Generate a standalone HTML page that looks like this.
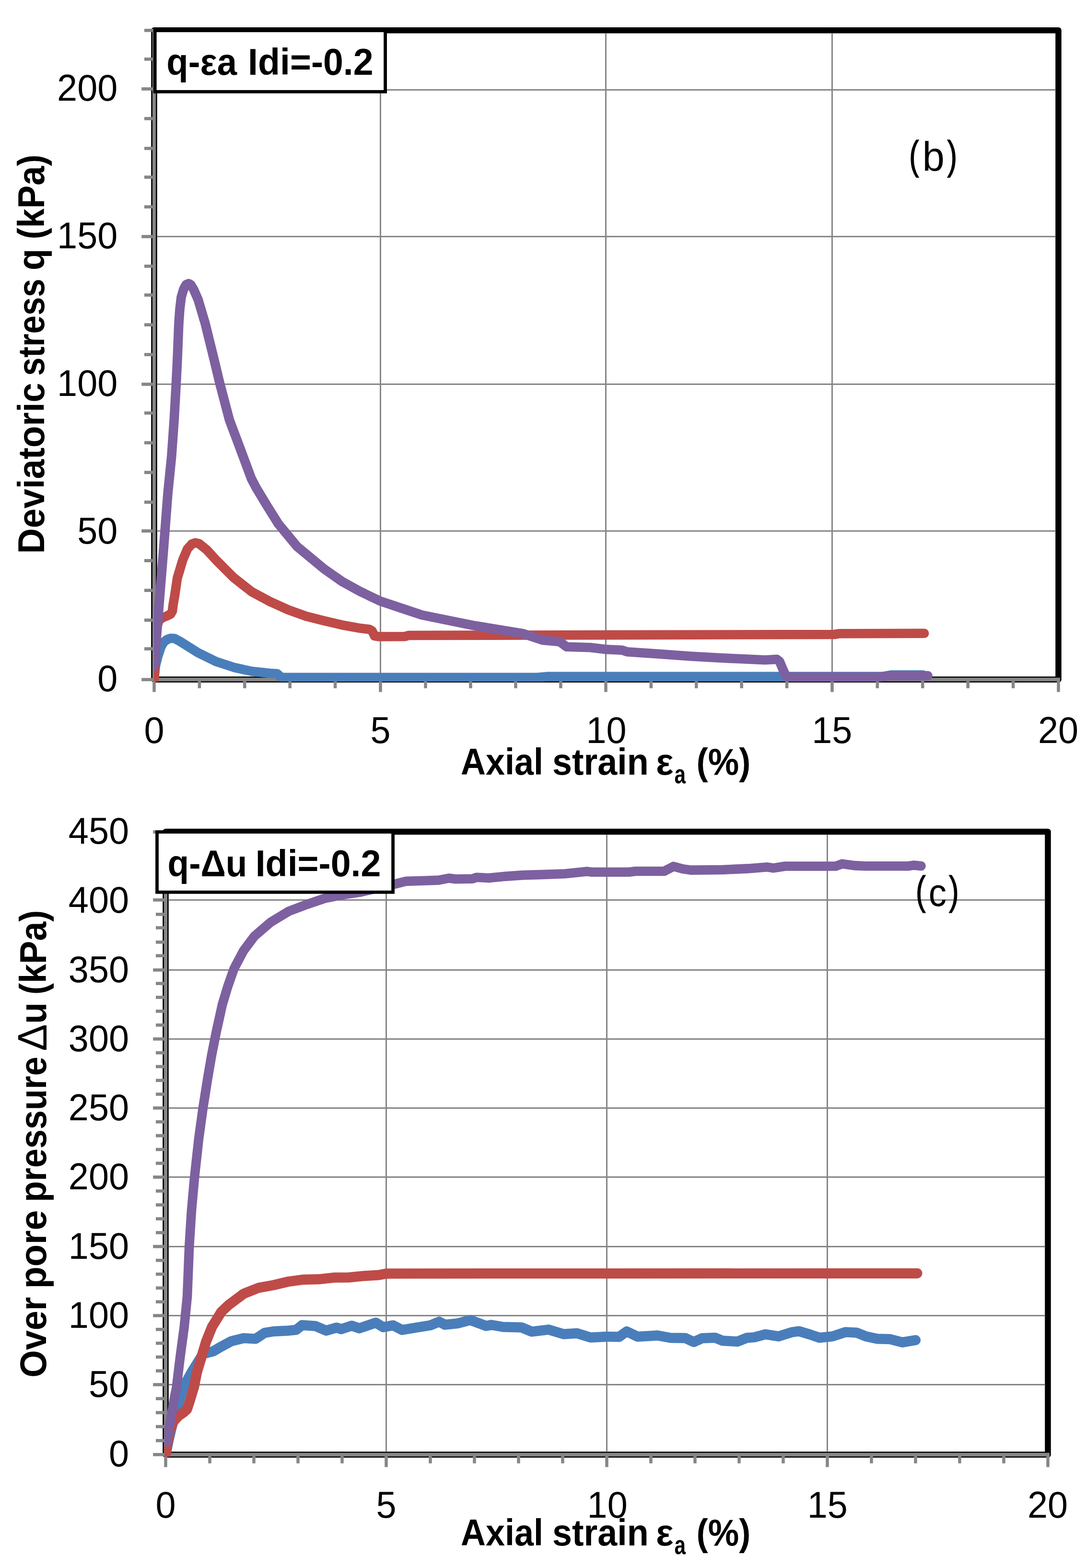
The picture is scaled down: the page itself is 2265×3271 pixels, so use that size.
<!DOCTYPE html>
<html lang="en"><head><meta charset="utf-8"><title>Stress-strain and pore pressure charts</title>
<style>html,body{margin:0;padding:0;background:#fff}body{width:2265px;height:3271px;overflow:hidden}svg{display:block}text{font-family:"Liberation Sans",sans-serif;fill:#000;font-kerning:none}</style></head><body>
<svg width="2265" height="3271" viewBox="0 0 2265 3271" role="img" aria-label="Deviatoric stress and over pore pressure versus axial strain">
<rect width="2265" height="3271" fill="#fff"/>
<g>
<rect x="321.50" y="63.20" width="1886.00" height="1354.30" fill="#fff" stroke="#000" stroke-width="12.5" stroke-linejoin="round"/>
<line x1="793.50" y1="69.20" x2="793.50" y2="1411.50" stroke="#868686" stroke-width="3.00"/>
<line x1="1263.50" y1="69.20" x2="1263.50" y2="1411.50" stroke="#868686" stroke-width="3.00"/>
<line x1="1735.50" y1="69.20" x2="1735.50" y2="1411.50" stroke="#868686" stroke-width="3.00"/>
<line x1="327.50" y1="187.50" x2="2201.50" y2="187.50" stroke="#868686" stroke-width="3.00"/>
<line x1="327.50" y1="493.50" x2="2201.50" y2="493.50" stroke="#868686" stroke-width="3.00"/>
<line x1="327.50" y1="801.40" x2="2201.50" y2="801.40" stroke="#868686" stroke-width="3.00"/>
<line x1="327.50" y1="1107.70" x2="2201.50" y2="1107.70" stroke="#868686" stroke-width="3.00"/>
<line x1="321.50" y1="60.20" x2="321.50" y2="1421.00" stroke="#868686" stroke-width="7.00"/>
<line x1="318.00" y1="1417.50" x2="2211.00" y2="1417.50" stroke="#868686" stroke-width="7.50"/>
<line x1="295.20" y1="1417.70" x2="321.50" y2="1417.70" stroke="#868686" stroke-width="6.70"/>
<line x1="301.00" y1="1353.50" x2="321.50" y2="1353.50" stroke="#868686" stroke-width="6.70"/>
<line x1="301.00" y1="1293.70" x2="321.50" y2="1293.70" stroke="#868686" stroke-width="6.70"/>
<line x1="301.00" y1="1231.60" x2="321.50" y2="1231.60" stroke="#868686" stroke-width="6.70"/>
<line x1="301.00" y1="1169.50" x2="321.50" y2="1169.50" stroke="#868686" stroke-width="6.70"/>
<line x1="295.20" y1="1107.60" x2="321.50" y2="1107.60" stroke="#868686" stroke-width="6.70"/>
<line x1="301.00" y1="1047.60" x2="321.50" y2="1047.60" stroke="#868686" stroke-width="6.70"/>
<line x1="301.00" y1="985.60" x2="321.50" y2="985.60" stroke="#868686" stroke-width="6.70"/>
<line x1="301.00" y1="923.60" x2="321.50" y2="923.60" stroke="#868686" stroke-width="6.70"/>
<line x1="301.00" y1="861.60" x2="321.50" y2="861.60" stroke="#868686" stroke-width="6.70"/>
<line x1="295.20" y1="801.60" x2="321.50" y2="801.60" stroke="#868686" stroke-width="6.70"/>
<line x1="301.00" y1="739.70" x2="321.50" y2="739.70" stroke="#868686" stroke-width="6.70"/>
<line x1="301.00" y1="677.60" x2="321.50" y2="677.60" stroke="#868686" stroke-width="6.70"/>
<line x1="301.00" y1="615.50" x2="321.50" y2="615.50" stroke="#868686" stroke-width="6.70"/>
<line x1="301.00" y1="555.40" x2="321.50" y2="555.40" stroke="#868686" stroke-width="6.70"/>
<line x1="295.20" y1="493.50" x2="321.50" y2="493.50" stroke="#868686" stroke-width="6.70"/>
<line x1="301.00" y1="431.50" x2="321.50" y2="431.50" stroke="#868686" stroke-width="6.70"/>
<line x1="301.00" y1="369.60" x2="321.50" y2="369.60" stroke="#868686" stroke-width="6.70"/>
<line x1="301.00" y1="309.60" x2="321.50" y2="309.60" stroke="#868686" stroke-width="6.70"/>
<line x1="301.00" y1="247.40" x2="321.50" y2="247.40" stroke="#868686" stroke-width="6.70"/>
<line x1="295.20" y1="185.50" x2="321.50" y2="185.50" stroke="#868686" stroke-width="6.70"/>
<line x1="301.00" y1="123.40" x2="321.50" y2="123.40" stroke="#868686" stroke-width="6.70"/>
<line x1="301.00" y1="63.40" x2="321.50" y2="63.40" stroke="#868686" stroke-width="6.70"/>
<line x1="321.50" y1="1417.50" x2="321.50" y2="1443.50" stroke="#868686" stroke-width="6.50"/>
<line x1="415.90" y1="1417.50" x2="415.90" y2="1435.70" stroke="#868686" stroke-width="6.50"/>
<line x1="510.30" y1="1417.50" x2="510.30" y2="1435.70" stroke="#868686" stroke-width="6.50"/>
<line x1="604.70" y1="1417.50" x2="604.70" y2="1435.70" stroke="#868686" stroke-width="6.50"/>
<line x1="699.10" y1="1417.50" x2="699.10" y2="1435.70" stroke="#868686" stroke-width="6.50"/>
<line x1="793.50" y1="1417.50" x2="793.50" y2="1443.50" stroke="#868686" stroke-width="6.50"/>
<line x1="887.50" y1="1417.50" x2="887.50" y2="1435.70" stroke="#868686" stroke-width="6.50"/>
<line x1="981.50" y1="1417.50" x2="981.50" y2="1435.70" stroke="#868686" stroke-width="6.50"/>
<line x1="1075.50" y1="1417.50" x2="1075.50" y2="1435.70" stroke="#868686" stroke-width="6.50"/>
<line x1="1169.50" y1="1417.50" x2="1169.50" y2="1435.70" stroke="#868686" stroke-width="6.50"/>
<line x1="1263.50" y1="1417.50" x2="1263.50" y2="1443.50" stroke="#868686" stroke-width="6.50"/>
<line x1="1357.90" y1="1417.50" x2="1357.90" y2="1435.70" stroke="#868686" stroke-width="6.50"/>
<line x1="1452.30" y1="1417.50" x2="1452.30" y2="1435.70" stroke="#868686" stroke-width="6.50"/>
<line x1="1546.70" y1="1417.50" x2="1546.70" y2="1435.70" stroke="#868686" stroke-width="6.50"/>
<line x1="1641.10" y1="1417.50" x2="1641.10" y2="1435.70" stroke="#868686" stroke-width="6.50"/>
<line x1="1735.50" y1="1417.50" x2="1735.50" y2="1443.50" stroke="#868686" stroke-width="6.50"/>
<line x1="1829.90" y1="1417.50" x2="1829.90" y2="1435.70" stroke="#868686" stroke-width="6.50"/>
<line x1="1924.30" y1="1417.50" x2="1924.30" y2="1435.70" stroke="#868686" stroke-width="6.50"/>
<line x1="2018.70" y1="1417.50" x2="2018.70" y2="1435.70" stroke="#868686" stroke-width="6.50"/>
<line x1="2113.10" y1="1417.50" x2="2113.10" y2="1435.70" stroke="#868686" stroke-width="6.50"/>
<line x1="2207.50" y1="1417.50" x2="2207.50" y2="1443.50" stroke="#868686" stroke-width="6.50"/>
<clipPath id="clipb"><rect x="321.00" y="63.20" width="1886.50" height="1358.60"/></clipPath>
<g clip-path="url(#clipb)">
<polyline points="321.5,1417.5 323.0,1400.0 324.5,1388.0 329.0,1370.0 335.5,1350.0 341.0,1340.0 348.5,1334.0 356.0,1331.5 364.0,1332.0 375.2,1337.9 412.8,1361.5 450.4,1380.0 488.0,1392.3 525.6,1400.5 563.2,1404.5 578.2,1405.5 585.7,1412.3 590.0,1413.2 1120.0,1413.2 1140.0,1411.4 1840.0,1411.4 1860.0,1408.0 1925.0,1408.0" fill="none" stroke="#4A7EBB" stroke-width="19.6" stroke-linejoin="round" stroke-linecap="round"/>
<polyline points="321.5,1417.5 323.5,1390.0 324.5,1350.0 327.0,1310.0 331.0,1295.0 338.0,1289.0 348.0,1285.0 356.0,1281.0 359.4,1275.0 361.0,1262.0 364.3,1243.2 369.9,1205.6 381.2,1168.0 391.0,1145.0 400.0,1135.0 407.1,1132.3 415.0,1134.0 431.6,1147.3 450.4,1168.0 488.0,1205.6 525.6,1234.9 563.2,1255.0 600.8,1272.0 638.3,1285.5 675.9,1295.0 713.5,1303.8 751.1,1310.6 769.9,1312.7 776.0,1316.0 781.2,1326.6 790.0,1328.0 845.0,1327.7 852.0,1325.5 1100.0,1325.0 1740.0,1323.5 1750.0,1321.8 1927.7,1321.3" fill="none" stroke="#BE4B48" stroke-width="19.6" stroke-linejoin="round" stroke-linecap="round"/>
<polyline points="321.5,1389.5 329.5,1290.0 340.0,1160.0 350.0,1030.0 357.9,951.0 363.2,875.8 367.4,800.6 369.9,750.5 372.9,675.3 375.0,645.0 378.0,620.0 383.0,603.0 388.0,594.0 393.2,591.6 398.0,594.0 404.0,604.0 413.3,625.2 428.1,675.3 446.6,750.5 458.6,800.6 478.4,875.8 497.2,925.9 517.4,980.0 524.3,998.6 534.3,1017.6 557.0,1055.2 580.5,1092.8 619.5,1140.0 675.9,1186.8 713.5,1213.1 751.1,1233.8 793.2,1254.0 845.1,1271.4 880.0,1283.0 985.3,1304.4 1090.5,1321.6 1132.6,1335.6 1167.7,1338.8 1181.8,1349.3 1230.9,1350.7 1262.5,1354.6 1297.5,1356.3 1308.0,1359.8 1371.2,1364.0 1440.0,1369.0 1507.7,1372.8 1595.4,1376.7 1610.0,1376.0 1620.0,1375.3 1626.0,1380.0 1632.3,1395.0 1638.0,1408.0 1644.6,1412.5 1830.5,1412.5 1858.6,1409.6 1935.1,1409.6" fill="none" stroke="#7D60A0" stroke-width="19.6" stroke-linejoin="round" stroke-linecap="round"/>
</g>
<text transform="translate(203.28 1442.21) scale(0.9750 1)" font-size="77.60" font-weight="normal">0</text>
<text transform="translate(161.20 1134.17) scale(0.9750 1)" font-size="77.60" font-weight="normal">50</text>
<text transform="translate(119.12 826.13) scale(0.9750 1)" font-size="77.60" font-weight="normal">100</text>
<text transform="translate(119.12 518.09) scale(0.9750 1)" font-size="77.60" font-weight="normal">150</text>
<text transform="translate(119.12 210.05) scale(0.9750 1)" font-size="77.60" font-weight="normal">200</text>
<text transform="translate(300.46 1550.36) scale(0.9750 1)" font-size="77.60" font-weight="normal">0</text>
<text transform="translate(772.53 1550.36) scale(0.9750 1)" font-size="77.60" font-weight="normal">5</text>
<text transform="translate(1222.42 1550.36) scale(0.9750 1)" font-size="77.60" font-weight="normal">10</text>
<text transform="translate(1693.13 1550.36) scale(0.9750 1)" font-size="77.60" font-weight="normal">15</text>
<text transform="translate(2165.00 1550.36) scale(0.9750 1)" font-size="77.60" font-weight="normal">20</text>
<rect x="323.20" y="63.70" width="480.40" height="127.60" fill="#fff" stroke="#000" stroke-width="6.8"/>
<text transform="translate(347.35 156.10) scale(0.9523 1)" font-size="78.00" font-weight="bold">q-εa</text>
<text transform="translate(517.06 156.10) scale(0.9657 1)" font-size="78.00" font-weight="bold">Idi=-0.2</text>
<text transform="translate(1896.33 352.90) scale(0.7229 1)" font-size="84.00" font-weight="normal" stroke="#000" stroke-width="1.5">(</text>
<text transform="translate(1923.65 355.50) scale(0.9645 1)" font-size="86.00" font-weight="normal">b</text>
<text transform="translate(1975.64 352.90) scale(0.7274 1)" font-size="84.00" font-weight="normal" stroke="#000" stroke-width="1.5">)</text>
<text transform="translate(960.91 1615.80) scale(0.9231 1)" font-size="78.00" font-weight="bold">Axial</text>
<text transform="translate(1151.91 1615.80) scale(0.9457 1)" font-size="78.00" font-weight="bold">strain</text>
<text transform="translate(1368.00 1615.80) scale(0.9899 1)" font-size="78.00" font-weight="bold">ε</text>
<text transform="translate(1406.56 1633.80) scale(0.7763 1)" font-size="54.60" font-weight="bold">a</text>
<text transform="translate(1452.48 1615.80) scale(0.9310 1)" font-size="78.00" font-weight="bold">(%)</text>
<text transform="translate(92.30 1155.13) rotate(-90) scale(0.9457 1)" font-size="78.00" font-weight="bold">Deviatoric</text>
<text transform="translate(92.30 784.02) rotate(-90) scale(0.8807 1)" font-size="78.00" font-weight="bold">stress</text>
<text transform="translate(92.30 564.04) rotate(-90) scale(0.9508 1)" font-size="78.00" font-weight="bold">q</text>
<text transform="translate(92.30 499.31) rotate(-90) scale(0.9280 1)" font-size="78.00" font-weight="bold">(kPa)</text>
</g>
<g>
<rect x="345.50" y="1735.00" width="1840.00" height="1299.50" fill="#fff" stroke="#000" stroke-width="12.5" stroke-linejoin="round"/>
<line x1="805.50" y1="1741.00" x2="805.50" y2="3028.50" stroke="#868686" stroke-width="3.00"/>
<line x1="1265.50" y1="1741.00" x2="1265.50" y2="3028.50" stroke="#868686" stroke-width="3.00"/>
<line x1="1725.50" y1="1741.00" x2="1725.50" y2="3028.50" stroke="#868686" stroke-width="3.00"/>
<line x1="351.50" y1="1877.60" x2="2179.50" y2="1877.60" stroke="#868686" stroke-width="3.00"/>
<line x1="351.50" y1="2023.40" x2="2179.50" y2="2023.40" stroke="#868686" stroke-width="3.00"/>
<line x1="351.50" y1="2167.40" x2="2179.50" y2="2167.40" stroke="#868686" stroke-width="3.00"/>
<line x1="351.50" y1="2311.40" x2="2179.50" y2="2311.40" stroke="#868686" stroke-width="3.00"/>
<line x1="351.50" y1="2455.60" x2="2179.50" y2="2455.60" stroke="#868686" stroke-width="3.00"/>
<line x1="351.50" y1="2600.40" x2="2179.50" y2="2600.40" stroke="#868686" stroke-width="3.00"/>
<line x1="351.50" y1="2744.50" x2="2179.50" y2="2744.50" stroke="#868686" stroke-width="3.00"/>
<line x1="351.50" y1="2888.50" x2="2179.50" y2="2888.50" stroke="#868686" stroke-width="3.00"/>
<line x1="345.50" y1="1732.00" x2="345.50" y2="3038.00" stroke="#868686" stroke-width="7.00"/>
<line x1="342.00" y1="3034.50" x2="2189.00" y2="3034.50" stroke="#868686" stroke-width="7.50"/>
<line x1="319.20" y1="3034.40" x2="345.50" y2="3034.40" stroke="#868686" stroke-width="6.70"/>
<line x1="325.00" y1="3005.22" x2="345.50" y2="3005.22" stroke="#868686" stroke-width="6.70"/>
<line x1="325.00" y1="2976.04" x2="345.50" y2="2976.04" stroke="#868686" stroke-width="6.70"/>
<line x1="325.00" y1="2946.86" x2="345.50" y2="2946.86" stroke="#868686" stroke-width="6.70"/>
<line x1="325.00" y1="2917.68" x2="345.50" y2="2917.68" stroke="#868686" stroke-width="6.70"/>
<line x1="319.20" y1="2888.50" x2="345.50" y2="2888.50" stroke="#868686" stroke-width="6.70"/>
<line x1="325.00" y1="2859.70" x2="345.50" y2="2859.70" stroke="#868686" stroke-width="6.70"/>
<line x1="325.00" y1="2830.90" x2="345.50" y2="2830.90" stroke="#868686" stroke-width="6.70"/>
<line x1="325.00" y1="2802.10" x2="345.50" y2="2802.10" stroke="#868686" stroke-width="6.70"/>
<line x1="325.00" y1="2773.30" x2="345.50" y2="2773.30" stroke="#868686" stroke-width="6.70"/>
<line x1="319.20" y1="2744.50" x2="345.50" y2="2744.50" stroke="#868686" stroke-width="6.70"/>
<line x1="325.00" y1="2715.68" x2="345.50" y2="2715.68" stroke="#868686" stroke-width="6.70"/>
<line x1="325.00" y1="2686.86" x2="345.50" y2="2686.86" stroke="#868686" stroke-width="6.70"/>
<line x1="325.00" y1="2658.04" x2="345.50" y2="2658.04" stroke="#868686" stroke-width="6.70"/>
<line x1="325.00" y1="2629.22" x2="345.50" y2="2629.22" stroke="#868686" stroke-width="6.70"/>
<line x1="319.20" y1="2600.40" x2="345.50" y2="2600.40" stroke="#868686" stroke-width="6.70"/>
<line x1="325.00" y1="2571.44" x2="345.50" y2="2571.44" stroke="#868686" stroke-width="6.70"/>
<line x1="325.00" y1="2542.48" x2="345.50" y2="2542.48" stroke="#868686" stroke-width="6.70"/>
<line x1="325.00" y1="2513.52" x2="345.50" y2="2513.52" stroke="#868686" stroke-width="6.70"/>
<line x1="325.00" y1="2484.56" x2="345.50" y2="2484.56" stroke="#868686" stroke-width="6.70"/>
<line x1="319.20" y1="2455.60" x2="345.50" y2="2455.60" stroke="#868686" stroke-width="6.70"/>
<line x1="325.00" y1="2426.76" x2="345.50" y2="2426.76" stroke="#868686" stroke-width="6.70"/>
<line x1="325.00" y1="2397.92" x2="345.50" y2="2397.92" stroke="#868686" stroke-width="6.70"/>
<line x1="325.00" y1="2369.08" x2="345.50" y2="2369.08" stroke="#868686" stroke-width="6.70"/>
<line x1="325.00" y1="2340.24" x2="345.50" y2="2340.24" stroke="#868686" stroke-width="6.70"/>
<line x1="319.20" y1="2311.40" x2="345.50" y2="2311.40" stroke="#868686" stroke-width="6.70"/>
<line x1="325.00" y1="2282.60" x2="345.50" y2="2282.60" stroke="#868686" stroke-width="6.70"/>
<line x1="325.00" y1="2253.80" x2="345.50" y2="2253.80" stroke="#868686" stroke-width="6.70"/>
<line x1="325.00" y1="2225.00" x2="345.50" y2="2225.00" stroke="#868686" stroke-width="6.70"/>
<line x1="325.00" y1="2196.20" x2="345.50" y2="2196.20" stroke="#868686" stroke-width="6.70"/>
<line x1="319.20" y1="2167.40" x2="345.50" y2="2167.40" stroke="#868686" stroke-width="6.70"/>
<line x1="325.00" y1="2138.45" x2="345.50" y2="2138.45" stroke="#868686" stroke-width="6.70"/>
<line x1="325.00" y1="2109.50" x2="345.50" y2="2109.50" stroke="#868686" stroke-width="6.70"/>
<line x1="325.00" y1="2080.55" x2="345.50" y2="2080.55" stroke="#868686" stroke-width="6.70"/>
<line x1="325.00" y1="2051.60" x2="345.50" y2="2051.60" stroke="#868686" stroke-width="6.70"/>
<line x1="319.20" y1="2023.50" x2="345.50" y2="2023.50" stroke="#868686" stroke-width="6.70"/>
<line x1="325.00" y1="1993.70" x2="345.50" y2="1993.70" stroke="#868686" stroke-width="6.70"/>
<line x1="325.00" y1="1965.40" x2="345.50" y2="1965.40" stroke="#868686" stroke-width="6.70"/>
<line x1="325.00" y1="1935.40" x2="345.50" y2="1935.40" stroke="#868686" stroke-width="6.70"/>
<line x1="325.00" y1="1907.40" x2="345.50" y2="1907.40" stroke="#868686" stroke-width="6.70"/>
<line x1="319.20" y1="1877.40" x2="345.50" y2="1877.40" stroke="#868686" stroke-width="6.70"/>
<line x1="325.00" y1="1849.02" x2="345.50" y2="1849.02" stroke="#868686" stroke-width="6.70"/>
<line x1="325.00" y1="1820.64" x2="345.50" y2="1820.64" stroke="#868686" stroke-width="6.70"/>
<line x1="325.00" y1="1792.26" x2="345.50" y2="1792.26" stroke="#868686" stroke-width="6.70"/>
<line x1="325.00" y1="1763.88" x2="345.50" y2="1763.88" stroke="#868686" stroke-width="6.70"/>
<line x1="319.20" y1="1735.50" x2="345.50" y2="1735.50" stroke="#868686" stroke-width="6.70"/>
<line x1="345.50" y1="3034.50" x2="345.50" y2="3060.50" stroke="#868686" stroke-width="6.50"/>
<line x1="437.50" y1="3034.50" x2="437.50" y2="3052.70" stroke="#868686" stroke-width="6.50"/>
<line x1="529.50" y1="3034.50" x2="529.50" y2="3052.70" stroke="#868686" stroke-width="6.50"/>
<line x1="621.50" y1="3034.50" x2="621.50" y2="3052.70" stroke="#868686" stroke-width="6.50"/>
<line x1="713.50" y1="3034.50" x2="713.50" y2="3052.70" stroke="#868686" stroke-width="6.50"/>
<line x1="805.50" y1="3034.50" x2="805.50" y2="3060.50" stroke="#868686" stroke-width="6.50"/>
<line x1="897.50" y1="3034.50" x2="897.50" y2="3052.70" stroke="#868686" stroke-width="6.50"/>
<line x1="989.50" y1="3034.50" x2="989.50" y2="3052.70" stroke="#868686" stroke-width="6.50"/>
<line x1="1081.50" y1="3034.50" x2="1081.50" y2="3052.70" stroke="#868686" stroke-width="6.50"/>
<line x1="1173.50" y1="3034.50" x2="1173.50" y2="3052.70" stroke="#868686" stroke-width="6.50"/>
<line x1="1265.50" y1="3034.50" x2="1265.50" y2="3060.50" stroke="#868686" stroke-width="6.50"/>
<line x1="1357.50" y1="3034.50" x2="1357.50" y2="3052.70" stroke="#868686" stroke-width="6.50"/>
<line x1="1449.50" y1="3034.50" x2="1449.50" y2="3052.70" stroke="#868686" stroke-width="6.50"/>
<line x1="1541.50" y1="3034.50" x2="1541.50" y2="3052.70" stroke="#868686" stroke-width="6.50"/>
<line x1="1633.50" y1="3034.50" x2="1633.50" y2="3052.70" stroke="#868686" stroke-width="6.50"/>
<line x1="1725.50" y1="3034.50" x2="1725.50" y2="3060.50" stroke="#868686" stroke-width="6.50"/>
<line x1="1817.50" y1="3034.50" x2="1817.50" y2="3052.70" stroke="#868686" stroke-width="6.50"/>
<line x1="1909.50" y1="3034.50" x2="1909.50" y2="3052.70" stroke="#868686" stroke-width="6.50"/>
<line x1="2001.50" y1="3034.50" x2="2001.50" y2="3052.70" stroke="#868686" stroke-width="6.50"/>
<line x1="2093.50" y1="3034.50" x2="2093.50" y2="3052.70" stroke="#868686" stroke-width="6.50"/>
<line x1="2185.50" y1="3034.50" x2="2185.50" y2="3060.50" stroke="#868686" stroke-width="6.50"/>
<clipPath id="clipc"><rect x="343.00" y="1735.00" width="1842.50" height="1303.80"/></clipPath>
<g clip-path="url(#clipc)">
<polyline points="345.5,3034.5 348.5,3020.0 352.0,3003.0 357.0,2982.0 362.0,2962.0 369.0,2938.0 376.0,2915.0 382.7,2893.3 399.9,2862.0 423.4,2824.4 445.3,2818.7 461.0,2809.3 482.9,2797.7 508.0,2791.5 533.0,2793.0 551.8,2780.5 570.6,2777.4 602.0,2775.8 617.6,2774.2 630.2,2764.2 658.3,2766.4 680.3,2775.8 702.2,2769.5 711.6,2772.7 733.5,2765.5 749.2,2771.1 783.7,2759.2 799.3,2768.6 820.0,2764.8 838.6,2774.4 870.2,2769.1 898.2,2764.6 915.8,2757.2 928.0,2763.5 954.4,2760.7 980.7,2753.7 1014.0,2766.0 1024.6,2763.9 1049.1,2768.1 1087.7,2769.1 1108.8,2777.9 1143.9,2773.7 1175.4,2783.2 1203.5,2781.4 1231.6,2790.2 1266.7,2788.4 1291.2,2788.8 1307.0,2777.5 1329.8,2788.4 1360.0,2786.7 1371.0,2785.9 1398.3,2790.9 1429.4,2791.3 1446.8,2799.5 1464.3,2791.7 1491.5,2790.6 1507.0,2796.8 1538.1,2798.7 1557.6,2790.9 1573.1,2789.8 1596.4,2783.6 1623.6,2787.8 1650.8,2779.3 1666.3,2777.0 1689.7,2784.0 1709.1,2790.6 1736.3,2787.8 1763.5,2778.9 1786.8,2780.1 1806.2,2787.8 1829.5,2792.9 1856.7,2793.7 1882.0,2800.3 1909.5,2795.6" fill="none" stroke="#4A7EBB" stroke-width="21.2" stroke-linejoin="round" stroke-linecap="round"/>
<polyline points="345.5,3034.5 347.5,3020.0 350.0,3005.0 354.6,2982.0 362.0,2965.0 372.0,2954.0 382.7,2946.5 390.0,2940.0 395.0,2925.0 404.6,2893.3 410.9,2862.0 420.3,2830.6 429.6,2799.3 442.2,2768.0 461.6,2736.6 476.6,2722.5 508.0,2699.0 539.3,2686.5 570.6,2680.9 602.0,2673.4 633.3,2669.3 664.6,2668.7 695.9,2665.2 727.3,2664.9 758.6,2661.8 789.9,2659.9 805.6,2656.8 1913.0,2656.3" fill="none" stroke="#BE4B48" stroke-width="21.2" stroke-linejoin="round" stroke-linecap="round"/>
<polyline points="348.0,3007.6 351.5,2985.0 354.5,2968.0 358.5,2948.0 363.0,2920.0 368.2,2893.3 375.8,2830.6 384.2,2768.0 390.5,2705.3 393.0,2642.7 394.7,2600.0 399.4,2526.0 405.7,2455.8 414.5,2375.6 423.3,2311.7 433.0,2250.3 441.6,2200.1 451.6,2150.0 455.3,2133.5 463.6,2095.9 474.9,2058.3 488.0,2020.8 508.0,1983.2 530.5,1953.1 564.4,1923.8 602.0,1901.2 639.5,1886.9 677.1,1874.1 714.7,1866.6 752.3,1861.0 823.8,1844.1 846.3,1838.4 883.9,1837.3 915.0,1836.1 936.0,1832.0 950.0,1833.7 985.0,1833.3 994.0,1830.2 1020.0,1831.6 1055.4,1828.1 1090.5,1825.6 1125.6,1824.6 1178.0,1822.8 1223.9,1817.9 1234.4,1819.3 1311.6,1819.3 1325.6,1817.5 1385.3,1817.5 1404.6,1807.4 1423.9,1812.6 1441.0,1815.1 1507.7,1814.4 1560.4,1811.9 1600.7,1808.8 1613.0,1810.9 1637.5,1807.0 1742.8,1807.0 1756.8,1802.1 1781.4,1805.6 1806.0,1806.7 1893.7,1806.7 1906.0,1804.9 1921.0,1806.5" fill="none" stroke="#7D60A0" stroke-width="19.6" stroke-linejoin="round" stroke-linecap="round"/>
</g>
<text transform="translate(226.98 3058.61) scale(0.9750 1)" font-size="77.60" font-weight="normal">0</text>
<text transform="translate(184.90 2914.31) scale(0.9750 1)" font-size="77.60" font-weight="normal">50</text>
<text transform="translate(142.82 2770.01) scale(0.9750 1)" font-size="77.60" font-weight="normal">100</text>
<text transform="translate(142.82 2625.71) scale(0.9750 1)" font-size="77.60" font-weight="normal">150</text>
<text transform="translate(142.82 2481.41) scale(0.9750 1)" font-size="77.60" font-weight="normal">200</text>
<text transform="translate(142.82 2337.11) scale(0.9750 1)" font-size="77.60" font-weight="normal">250</text>
<text transform="translate(142.82 2192.81) scale(0.9750 1)" font-size="77.60" font-weight="normal">300</text>
<text transform="translate(142.82 2048.51) scale(0.9750 1)" font-size="77.60" font-weight="normal">350</text>
<text transform="translate(142.82 1904.21) scale(0.9750 1)" font-size="77.60" font-weight="normal">400</text>
<text transform="translate(142.82 1759.91) scale(0.9750 1)" font-size="77.60" font-weight="normal">450</text>
<text transform="translate(324.46 3166.41) scale(0.9750 1)" font-size="77.60" font-weight="normal">0</text>
<text transform="translate(784.53 3166.41) scale(0.9750 1)" font-size="77.60" font-weight="normal">5</text>
<text transform="translate(1224.62 3166.41) scale(0.9750 1)" font-size="77.60" font-weight="normal">10</text>
<text transform="translate(1683.73 3166.41) scale(0.9750 1)" font-size="77.60" font-weight="normal">15</text>
<text transform="translate(2143.00 3166.41) scale(0.9750 1)" font-size="77.60" font-weight="normal">20</text>
<rect x="327.50" y="1735.50" width="492.10" height="125.70" fill="#fff" stroke="#000" stroke-width="6.8"/>
<text transform="translate(349.61 1827.50) scale(0.9350 1)" font-size="78.00" font-weight="bold">q-Δu</text>
<text transform="translate(532.66 1827.50) scale(0.9665 1)" font-size="78.00" font-weight="bold">Idi=-0.2</text>
<text transform="translate(1910.09 1887.00) scale(0.7319 1)" font-size="84.00" font-weight="normal" stroke="#000" stroke-width="1.5">(</text>
<text transform="translate(1936.83 1890.10) scale(0.9152 1)" font-size="81.60" font-weight="normal">c</text>
<text transform="translate(1979.34 1887.00) scale(0.7319 1)" font-size="84.00" font-weight="normal" stroke="#000" stroke-width="1.5">)</text>
<text transform="translate(960.91 3223.70) scale(0.9231 1)" font-size="78.00" font-weight="bold">Axial</text>
<text transform="translate(1151.91 3223.70) scale(0.9457 1)" font-size="78.00" font-weight="bold">strain</text>
<text transform="translate(1368.00 3223.70) scale(0.9899 1)" font-size="78.00" font-weight="bold">ε</text>
<text transform="translate(1406.56 3241.80) scale(0.7763 1)" font-size="54.60" font-weight="bold">a</text>
<text transform="translate(1452.48 3223.70) scale(0.9310 1)" font-size="78.00" font-weight="bold">(%)</text>
<text transform="translate(96.00 2873.73) rotate(-90) scale(0.9458 1)" font-size="78.00" font-weight="bold">Over</text>
<text transform="translate(96.00 2688.28) rotate(-90) scale(0.9689 1)" font-size="78.00" font-weight="bold">pore</text>
<text transform="translate(96.00 2507.84) rotate(-90) scale(0.9213 1)" font-size="78.00" font-weight="bold">pressure</text>
<text transform="translate(97.00 2192.50) rotate(-90) scale(0.9778 1)" font-size="85.80" font-weight="normal">Δ</text>
<text transform="translate(96.00 2135.83) rotate(-90) scale(0.9372 1)" font-size="78.00" font-weight="bold">u</text>
<text transform="translate(96.00 2075.09) rotate(-90) scale(0.9248 1)" font-size="78.00" font-weight="bold">(kPa)</text>
</g>
</svg></body></html>
